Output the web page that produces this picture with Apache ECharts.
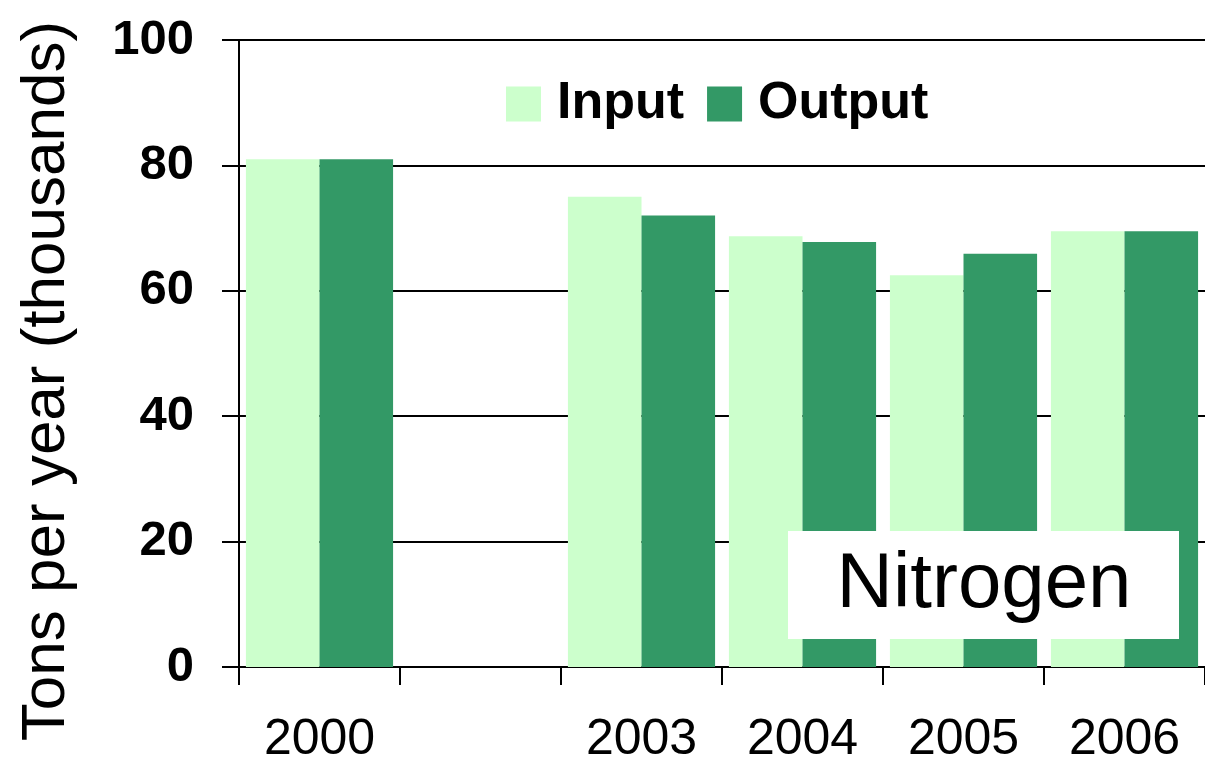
<!DOCTYPE html>
<html>
<head>
<meta charset="utf-8">
<script src="https://cdn.jsdelivr.net/npm/echarts@6/dist/echarts.min.js"></script>
<style>
  html, body { margin: 0; padding: 0; background: #fff; }
  #chart { width: 1205px; height: 766px; }
</style>
</head>
<body>
<div id="chart"></div>
<script>
// years on the x axis (2001-2002 slot has no data)
const years = ['2000', '', '2003', '2004', '2005', '2006'];
// thousand tons per year
const inputData = [81, '-', 75, 68.7, 62.5, 69.5];
const outputData = [81, '-', 72, 67.8, 65.9, 69.5];
const yTicks = [0, 20, 40, 60, 80, 100];

const font = 'Liberation Sans, Arial, sans-serif';
const chart = echarts.init(document.getElementById('chart'));

const option = {
  backgroundColor: '#fff',
  animation: false,
  textStyle: { fontFamily: font, color: '#000' },
  grid: { left: 239, top: 40, width: 972, height: 627 },
  legend: {
    left: 506,
    top: 78,
    padding: 0,
    icon: 'rect',
    itemWidth: 35,
    itemHeight: 35,
    itemGap: 23,
    textStyle: { fontFamily: font, fontSize: 52, fontWeight: 'bold', color: '#000', padding: [0, 0, 0, 11] },
    data: ['Input', 'Output']
  },
  xAxis: {
    type: 'category',
    data: years,
    axisLine: { lineStyle: { color: '#000', width: 2 } },
    axisTick: { show: true, alignWithLabel: false, length: 18, lineStyle: { color: '#000', width: 2 } },
    axisLabel: { fontFamily: font, fontSize: 50, color: '#000', margin: 48, interval: 0 },
    splitLine: { show: false }
  },
  yAxis: {
    type: 'value',
    min: yTicks[0],
    max: yTicks[yTicks.length - 1],
    interval: 20,
    axisLine: { show: true, lineStyle: { color: '#000', width: 2 } },
    axisTick: { show: true, length: 17, lineStyle: { color: '#000', width: 2 } },
    axisLabel: { fontFamily: font, fontSize: 49, fontWeight: 'bold', color: '#000', margin: 45 },
    splitLine: { show: true, lineStyle: { color: '#000', width: 2 } }
  },
  series: [
    {
      name: 'Input',
      type: 'bar',
      data: inputData,
      barGap: '0%',
      barCategoryGap: '8.6%',
      itemStyle: { color: '#CCFFCC' }
    },
    {
      name: 'Output',
      type: 'bar',
      data: outputData,
      barGap: '0%',
      barCategoryGap: '8.6%',
      itemStyle: { color: '#339966' }
    }
  ],
  graphic: [
    {
      type: 'text',
      x: 47,
      y: 381,
      rotation: Math.PI / 2,
      style: {
        text: 'Tons per year (thousands)',
        fontFamily: font,
        fontSize: 62,
        fill: '#000',
        textAlign: 'center',
        textVerticalAlign: 'middle'
      }
    },
    {
      type: 'rect',
      z: 100,
      shape: { x: 788, y: 531, width: 391, height: 108 },
      style: { fill: '#fff' }
    },
    {
      type: 'text',
      z: 101,
      x: 984,
      y: 585,
      style: {
        text: 'Nitrogen',
        fontFamily: font,
        fontSize: 78,
        fill: '#000',
        textAlign: 'center',
        textVerticalAlign: 'middle'
      }
    }
  ]
};

chart.setOption(option);
</script>
</body>
</html>
